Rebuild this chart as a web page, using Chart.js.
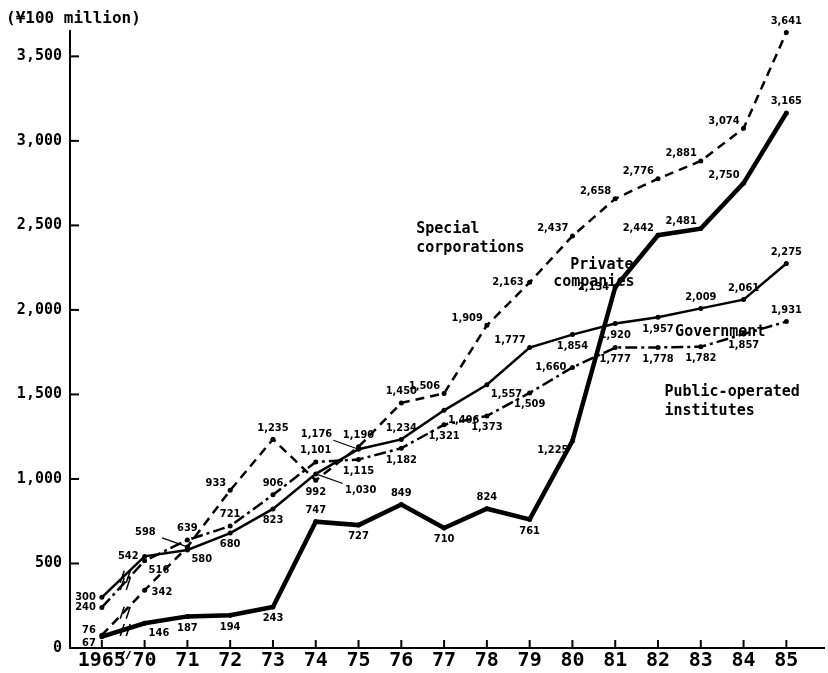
<!DOCTYPE html>
<html lang="en">
<head>
<meta charset="UTF-8">
<script src="https://cdn.jsdelivr.net/npm/chart.js"></script>
<title>Investment</title>
<style>
  html, body { margin: 0; padding: 0; background: #fff; }
  #wrap { width: 828px; height: 673px; }
</style>
</head>
<body>
<div id="wrap"><canvas id="chart1"></canvas></div>
<script>
// categories and values (¥100 million)
const years = ['1965', '70', '71', '72', '73', '74', '75', '76', '77', '78', '79', '80', '81', '82', '83', '84', '85'];
const special = [76, 342, 598, 933, 1235, 992, 1190, 1450, 1506, 1909, 2163, 2437, 2658, 2776, 2881, 3074, 3641];
const privateCo = [67, 146, 187, 194, 243, 747, 727, 849, 710, 824, 761, 1225, 2134, 2442, 2481, 2750, 3165];
const government = [300, 542, 580, 680, 823, 1030, 1176, 1234, 1406, 1557, 1777, 1854, 1920, 1957, 2009, 2061, 2275];
const publicOp = [240, 516, 639, 721, 906, 1101, 1115, 1182, 1321, 1373, 1509, 1660, 1777, 1778, 1782, 1857, 1931];
const yTicks = [0, 500, 1000, 1500, 2000, 2500, 3000, 3500];

// where each value label sits next to its point (style only)
const labelSpots = {
  special:    ['lu','r','Lul','al','a','b','a','a','al','al','l','al','al','al','al','al','a'],
  privateCo:  ['ld','br','b','b','b','a','b','a','b','a','b','bl','l','al','al','al','a'],
  government: ['l','l','br','b','b','Ldr','Lul','a','br','br','al','b','b','b','a','a','a'],
  publicOp:   ['l','br','a','a','a','a','b','b','b','b','b','l','b','b','b','b','a']
};
const spots = {
  a:  [0, -6, 'center', 'bottom'],
  b:  [0, 6, 'center', 'top'],
  al: [-4, -2, 'right', 'bottom'],
  ar: [4, -2, 'left', 'bottom'],
  bl: [-4, 4, 'right', 'top'],
  br: [4, 4, 'left', 'top'],
  l:  [-6, 0, 'right', 'middle'],
  r:  [7, 2, 'left', 'middle'],
  lu: [-6, -5, 'right', 'middle'],
  ld: [-6, 6, 'right', 'middle'],
  Lul: [-42, -15, 'center', 'middle', true],
  Ldr: [45, 16, 'center', 'middle', true]
};

const fmt = v => v.toLocaleString('en-US');
const toPts = arr => arr.map((v, i) => ({ x: i, y: v }));

const extras = {
  id: 'extras',
  afterDatasetsDraw(chart) {
    const ctx = chart.ctx;
    const xs = chart.scales.x, ys = chart.scales.y;
    const area = chart.chartArea;
    ctx.save();
    ctx.strokeStyle = '#000';
    ctx.fillStyle = '#000';

    // inward ticks
    ctx.lineWidth = 2;
    yTicks.forEach(v => {
      if (v === 0) return;
      const py = ys.getPixelForValue(v);
      ctx.beginPath(); ctx.moveTo(area.left, py); ctx.lineTo(area.left + 9, py); ctx.stroke();
    });
    years.forEach((y, i) => {
      const px = xs.getPixelForValue(i);
      ctx.beginPath(); ctx.moveTo(px, area.bottom); ctx.lineTo(px, area.bottom - 8); ctx.stroke();
    });

    // break marks between 1965 and 70
    ctx.lineWidth = 1.5;
    const bx = xs.getPixelForValue(0.55);
    [-3, 3].forEach(d => {
      ctx.beginPath(); ctx.moveTo(bx + d - 2, area.bottom + 11); ctx.lineTo(bx + d + 2, area.bottom + 3); ctx.stroke();
    });
    chart.data.datasets.forEach((ds, k) => {
      const meta = chart.getDatasetMeta(k);
      const p0 = meta.data[0], p1 = meta.data[1];
      const mx = (p0.x + p1.x) / 2 + 2, my = (p0.y + p1.y) / 2;
      [-3, 3].forEach(d => {
        ctx.beginPath(); ctx.moveTo(mx + d - 2, my + 6); ctx.lineTo(mx + d + 2, my - 6); ctx.stroke();
      });
    });

    // value labels
    ctx.font = 'bold 11px "DejaVu Sans Condensed", "DejaVu Sans", sans-serif';
    const keys = ['special', 'privateCo', 'government', 'publicOp'];
    chart.data.datasets.forEach((ds, k) => {
      const meta = chart.getDatasetMeta(k);
      const codes = labelSpots[keys[k]];
      meta.data.forEach((pt, i) => {
        const s = spots[codes[i]];
        const tx = pt.x + s[0], ty = pt.y + s[1];
        ctx.textAlign = s[2];
        ctx.textBaseline = s[3];
        ctx.fillText(fmt(ds.data[i].y), tx, ty);
        if (s[4]) {
          ctx.lineWidth = 1.2;
          ctx.beginPath();
          ctx.moveTo(pt.x + s[0] * 0.6, pt.y + s[1] * 0.6);
          ctx.lineTo(pt.x, pt.y);
          ctx.stroke();
        }
      });
    });

    // series names
    ctx.font = 'bold 15px "DejaVu Sans Mono", monospace';
    ctx.textAlign = 'left';
    ctx.textBaseline = 'alphabetic';
    const name = (t, xi, yv) => ctx.fillText(t, xs.getPixelForValue(xi), ys.getPixelForValue(yv));
    name('Special', 7.35, 2455);
    name('corporations', 7.35, 2345);
    name('Private', 10.95, 2240);
    name('companies', 10.55, 2140);
    name('Government', 13.4, 1845);
    name('Public-operated', 13.15, 1490);
    name('institutes', 13.15, 1378);

    // unit title
    ctx.font = 'bold 16px "DejaVu Sans Mono", monospace';
    ctx.textBaseline = 'middle';
    ctx.fillText('(¥100 million)', 6, 19);
    ctx.restore();
  }
};

const ctx1 = document.getElementById('chart1');
new Chart(ctx1, {
  type: 'line',
  data: {
    datasets: [
      { label: 'Special corporations', data: toPts(special), borderColor: '#000', borderWidth: 2.5,
        borderDash: [9, 6], pointRadius: 2.5, pointBackgroundColor: '#000', pointBorderWidth: 0 },
      { label: 'Private companies', data: toPts(privateCo), borderColor: '#000', borderWidth: 4.5,
        pointRadius: 2.5, pointBackgroundColor: '#000', pointBorderWidth: 0 },
      { label: 'Government', data: toPts(government), borderColor: '#000', borderWidth: 2.5,
        pointRadius: 2.5, pointBackgroundColor: '#000', pointBorderWidth: 0 },
      { label: 'Public-operated institutes', data: toPts(publicOp), borderColor: '#000', borderWidth: 2.5,
        borderDash: [12, 4, 3, 4], pointRadius: 2.5, pointBackgroundColor: '#000', pointBorderWidth: 0 }
    ]
  },
  options: {
    responsive: true,
    maintainAspectRatio: false,
    animation: false,
    clip: false,
    layout: { padding: { top: 31, right: 0, left: 0, bottom: 0 } },
    plugins: { legend: { display: false }, tooltip: { enabled: false } },
    scales: {
      x: {
        type: 'linear',
        min: -0.744,
        max: 16.88,
        afterBuildTicks: scale => { scale.ticks = years.map((y, i) => ({ value: i })); },
        afterFit: scale => { scale.height = 25; },
        ticks: {
          autoSkip: false, maxRotation: 0, padding: 1, color: '#000',
          font: { family: '"DejaVu Sans Mono", monospace', size: 20, weight: 'bold' },
          callback: v => years[v]
        },
        grid: { drawOnChartArea: false, drawTicks: false },
        border: { color: '#000', width: 2 }
      },
      y: {
        min: 0,
        max: 3650,
        afterFit: scale => { scale.width = 70; },
        afterBuildTicks: scale => { scale.ticks = yTicks.map(v => ({ value: v })); },
        ticks: {
          padding: 8, color: '#000',
          font: { family: '"DejaVu Sans Mono", monospace', size: 15, weight: 'bold' },
          callback: v => fmt(v)
        },
        grid: { drawOnChartArea: false, drawTicks: false },
        border: { color: '#000', width: 2 }
      }
    }
  },
  plugins: [extras]
});
</script>
</body>
</html>
